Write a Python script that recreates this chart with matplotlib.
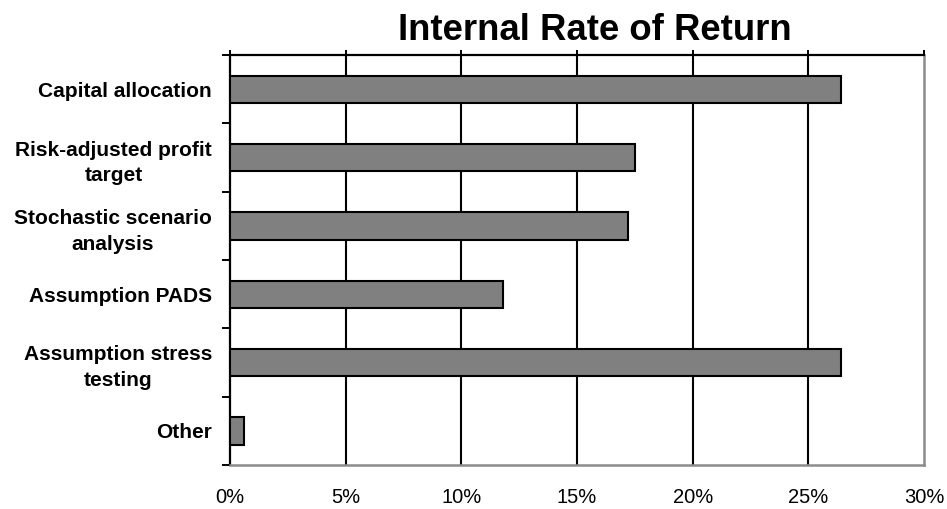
import matplotlib.pyplot as plt
import numpy as np

# Survey data: share of respondents using each method with IRR
categories = [
    "Capital allocation",
    "Risk-adjusted profit\ntarget",
    "Stochastic scenario\nanalysis",
    "Assumption PADS",
    "Assumption stress\ntesting",
    "Other",
]
irr_pct = [26.4, 17.5, 17.2, 11.8, 26.4, 0.6]
x_ticks = [0, 5, 10, 15, 20, 25, 30]
x_tick_labels = ["0%", "5%", "10%", "15%", "20%", "25%", "30%"]
title = "Internal Rate of Return"

plt.rcParams['font.family'] = ['Liberation Sans', 'DejaVu Sans']

W, H = 947, 509
fig = plt.figure(figsize=(W / 100, H / 100), dpi=100)
ax = fig.add_axes([230 / W, 44 / H, 694 / W, 410 / H])

y = np.arange(len(categories))
ax.barh(y, irr_pct, height=0.4, color='#808080', edgecolor='black',
        linewidth=1.5, zorder=3)

ax.set_xlim(x_ticks[0], x_ticks[-1])
ax.set_ylim(len(categories) - 0.5, -0.5)

# vertical gridlines at interior ticks
for xv in x_ticks[1:-1]:
    ax.axvline(xv, color='black', linewidth=1.5, zorder=1)

# spines
ax.spines['left'].set_color('black')
ax.spines['left'].set_linewidth(1.6)
ax.spines['top'].set_color('black')
ax.spines['top'].set_linewidth(1.6)
ax.spines['right'].set_color('#8c8c8c')
ax.spines['right'].set_linewidth(1.8)
ax.spines['bottom'].set_color('#8c8c8c')
ax.spines['bottom'].set_linewidth(1.8)

# x axis: tick marks on top, labels below
ax.set_xticks(x_ticks)
ax.set_xticklabels(x_tick_labels, fontsize=14.5)
ax.tick_params(axis='x', top=True, bottom=False, labeltop=False,
               labelbottom=True, length=3.6, width=1.4, pad=13)

# y axis: boundary ticks and centred category labels
ax.set_yticks(np.arange(len(categories) + 1) - 0.5)
ax.set_yticklabels([])
ax.tick_params(axis='y', which='major', length=5.8, width=1.4, direction='out')
ax.set_yticks(y, minor=True)
ax.set_yticklabels(categories, minor=True, fontsize=15, fontweight='bold',
                   multialignment='center', linespacing=1.45)
ax.tick_params(axis='y', which='minor', length=0, pad=13)

fig.text(594.5 / W, 1 - 40 / H, title, fontsize=26.3, fontweight='bold',
         ha='center', va='baseline')

fig.savefig('out.png', dpi=100)
